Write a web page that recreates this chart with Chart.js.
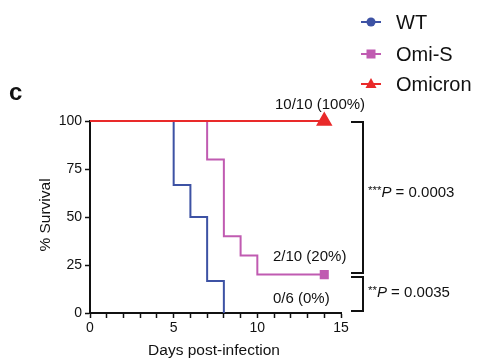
<!DOCTYPE html>
<html><head><meta charset="utf-8">
<script src="https://cdn.jsdelivr.net/npm/chart.js@4/dist/chart.umd.min.js"></script>
<style>html,body{margin:0;padding:0;background:#fff}#wrap{width:477px;height:363px;position:relative}</style>
</head><body><div id="wrap"><canvas id="c" width="477" height="363"></canvas></div>
<script>
// ---- data ----
const seriesNames = ["WT", "Omi-S", "Omicron"];
const wtDays = [0, 5, 6, 7, 8];
const wtSurvival = [100, 66.7, 50, 16.7, 0];
const omiSDays = [0, 7, 8, 9, 10, 14];
const omiSSurvival = [100, 80, 40, 30, 20, 20];
const omicronDays = [0, 14];
const omicronSurvival = [100, 100];
const xTickLabels = [0, 5, 10, 15];
const yTickLabels = [0, 25, 50, 75, 100];
const endLabels = ["10/10 (100%)", "2/10 (20%)", "0/6 (0%)"];
const pValues = ["0.0003", "0.0035"];

const colors = {WT: "#3d52a4", "Omi-S": "#c05bb1", Omicron: "#e92a2a"};
const FONT = "'Liberation Sans', Arial, sans-serif";

function pts(xs, ys) { return xs.map((x, i) => ({x: x, y: ys[i]})); }
function lastOnly(n, r) { return Array.from({length: n}, (_, i) => i === n - 1 ? r : 0); }

const annot = {
  id: 'annot',
  afterDraw(chart) {
    const ctx = chart.ctx, xs = chart.scales.x, ys = chart.scales.y;
    ctx.save();
    // axis titles
    ctx.fillStyle = '#111';
    ctx.font = "15.5px " + FONT;
    ctx.textAlign = 'center'; ctx.textBaseline = 'middle';
    ctx.fillText("Days post-infection", 214, 351);
    ctx.save(); ctx.translate(46, 215); ctx.rotate(-Math.PI / 2);
    ctx.fillText("% Survival", 0, 0); ctx.restore();
    // panel letter
    ctx.font = "bold 24px " + FONT; ctx.textAlign = 'left';
    ctx.fillText("c", 9, 93);
    // end labels
    ctx.font = "15px " + FONT; ctx.textAlign = 'left';
    ctx.fillText(endLabels[0], 275, 105);
    ctx.fillText(endLabels[1], 273, 257);
    ctx.fillText(endLabels[2], 273, 299);
    // brackets
    ctx.strokeStyle = '#111'; ctx.lineWidth = 2;
    const bx = 363, bl = 351;
    function bracket(v1, v2, o1, o2) {
      const y1 = ys.getPixelForValue(v1) + o1, y2 = ys.getPixelForValue(v2) + o2;
      ctx.beginPath(); ctx.moveTo(bl, y1); ctx.lineTo(bx, y1); ctx.lineTo(bx, y2); ctx.lineTo(bl, y2); ctx.stroke();
      return (y1 + y2) / 2;
    }
    const m1 = bracket(100, 20, 1, -1.5);
    const m2 = bracket(20, 0, 2.5, -2);
    function ptext(stars, val, y) {
      let x = 368;
      ctx.font = "11.5px " + FONT; ctx.textBaseline = 'middle';
      ctx.fillText(stars, x, y - 2); x += ctx.measureText(stars).width;
      ctx.font = "italic 15px " + FONT; ctx.textBaseline = 'middle';
      ctx.fillText("P", x, y); x += ctx.measureText("P").width;
      ctx.font = "15px " + FONT;
      ctx.fillText(" = " + val, x, y);
    }
    ptext("***", pValues[0], m1 - 5);
    ptext("**", pValues[1], m2 - 1);
    // legend
    const ly = [22, 54, 84];
    seriesNames.forEach((n, i) => {
      const y = ly[i];
      ctx.strokeStyle = colors[n]; ctx.fillStyle = colors[n]; ctx.lineWidth = 2;
      ctx.beginPath(); ctx.moveTo(361, y); ctx.lineTo(381, y); ctx.stroke();
      ctx.beginPath();
      if (i === 0) { ctx.arc(371, y, 4.5, 0, Math.PI * 2); ctx.fill(); }
      else if (i === 1) { ctx.fillRect(366.5, y - 4.5, 9, 9); }
      else { ctx.moveTo(371, y - 6); ctx.lineTo(376.5, y + 4); ctx.lineTo(365.5, y + 4); ctx.closePath(); ctx.fill(); }
      ctx.fillStyle = '#111'; ctx.font = "20px " + FONT; ctx.textAlign = 'left'; ctx.textBaseline = 'middle';
      ctx.fillText(n, 396, y + 1);
    });
    ctx.restore();
  }
};

new Chart(document.getElementById('c'), {
  type: 'line',
  data: {
    datasets: [
      {label: "Omicron", data: pts(omicronDays, omicronSurvival), borderColor: colors.Omicron, backgroundColor: colors.Omicron,
       stepped: true, borderWidth: 2, pointStyle: 'triangle', pointRadius: lastOnly(omicronDays.length, 7.5), order: 0, clip: false},
      {label: "Omi-S", data: pts(omiSDays, omiSSurvival), borderColor: colors["Omi-S"], backgroundColor: colors["Omi-S"],
       stepped: true, borderWidth: 2, pointStyle: 'rect', pointRadius: lastOnly(omiSDays.length, 5), order: 1, clip: false},
      {label: "WT", data: pts(wtDays, wtSurvival), borderColor: colors.WT, backgroundColor: colors.WT,
       stepped: true, borderWidth: 2, pointRadius: 0, order: 2, clip: false}
    ]
  },
  options: {
    responsive: false, animation: false, devicePixelRatio: 1,
    layout: {padding: {left: 0, top: 121, right: 136, bottom: 0}},
    plugins: {legend: {display: false}, tooltip: {enabled: false}},
    elements: {point: {borderWidth: 0}},
    scales: {
      x: {type: 'linear', min: xTickLabels[0], max: xTickLabels[xTickLabels.length - 1],
          afterFit: s => { s.height = 50; },
          border: {display: true, color: '#111', width: 2},
          grid: {drawOnChartArea: false, drawTicks: true, tickLength: 5, tickColor: '#111', tickWidth: 1.5},
          ticks: {stepSize: 1, autoSkip: false, maxRotation: 0, padding: 2, color: '#111', font: {family: FONT, size: 14},
                  callback: v => xTickLabels.includes(v) ? String(v) : ''}},
      y: {min: yTickLabels[0], max: yTickLabels[yTickLabels.length - 1],
          afterFit: s => { s.width = 90; },
          afterBuildTicks: s => { s.ticks = yTickLabels.map(v => ({value: v})); },
          border: {display: true, color: '#111', width: 2},
          grid: {drawOnChartArea: false, drawTicks: true, tickLength: 5, tickColor: '#111', tickWidth: 1.5},
          ticks: {padding: 3, color: '#111', font: {family: FONT, size: 14}}}
    }
  },
  plugins: [annot]
});
</script></body></html>
